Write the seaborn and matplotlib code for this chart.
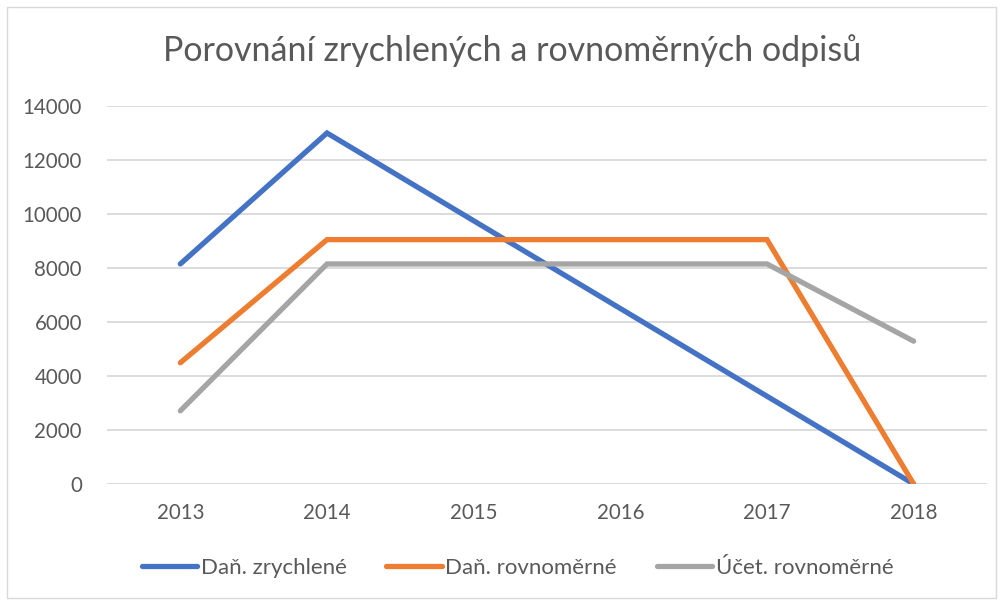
import pandas as pd
import matplotlib.pyplot as plt
import seaborn as sns
from matplotlib.patches import Rectangle

years = ["2013", "2014", "2015", "2016", "2017", "2018"]
dan_zrychlene = [8150, 13000, 9750, 6500, 3250, 0]
dan_rovnomerne = [4490, 9050, 9050, 9050, 9050, 0]
ucet_rovnomerne = [2710, 8150, 8150, 8150, 8150, 5290]
series_names = ["Daň. zrychlené", "Daň. rovnoměrné", "Účet. rovnoměrné"]
colors = ["#4472C4", "#ED7D31", "#A5A5A5"]

df = pd.concat([
    pd.DataFrame({"rok": years, "hodnota": vals, "serie": name})
    for name, vals in zip(series_names, [dan_zrychlene, dan_rovnomerne, ucet_rovnomerne])
])

sns.set_style("white")
plt.rcParams["font.family"] = ["Lato", "DejaVu Sans"]
text_color = "#595959"

fig = plt.figure(figsize=(10.03, 6.03), dpi=100)
ax = fig.add_axes([107 / 1003, 1 - 484 / 603, 880 / 1003, 378 / 603])

sns.lineplot(data=df, x="rok", y="hodnota", hue="serie", palette=colors,
             linewidth=3.8, sort=False, ax=ax, legend=True)
for line in ax.lines:
    line.set_solid_capstyle("round")
    line.set_solid_joinstyle("miter")

ax.set_xlim(-0.5, 5.5)
ax.set_ylim(0, 14000)
ax.set_yticks(range(0, 14001, 2000))
ax.yaxis.grid(True, color="#d9d9d9", linewidth=1.3)
ax.set_axisbelow(True)
for s in ax.spines.values():
    s.set_visible(False)
ax.tick_params(axis="both", length=0, labelsize=14.8, colors=text_color)
ax.tick_params(axis="y", pad=18)
ax.tick_params(axis="x", pad=14)
ax.set_xlabel("")
ax.set_ylabel("")

# společná legenda dole
handles, labels = ax.get_legend_handles_labels()
ax.get_legend().remove()
for h in handles:
    h.set_linewidth(3.8)
fig.legend(handles, labels, loc="center", bbox_to_anchor=(0.516, 1 - 568 / 603),
           ncol=3, frameon=False, fontsize=16, labelcolor=text_color,
           handlelength=2.5, handletextpad=0.15, columnspacing=1.8)

fig.text(0.511, 1 - 51 / 603, "Porovnání zrychlených a rovnoměrných odpisů",
         ha="center", va="center", fontsize=24.5, color=text_color)

fig.patches.append(Rectangle((7 / 1003, 5 / 603), 989 / 1003, 591 / 603,
                             transform=fig.transFigure, fill=False,
                             edgecolor="#d9d9d9", linewidth=1))

fig.savefig("out.png", dpi=100)
